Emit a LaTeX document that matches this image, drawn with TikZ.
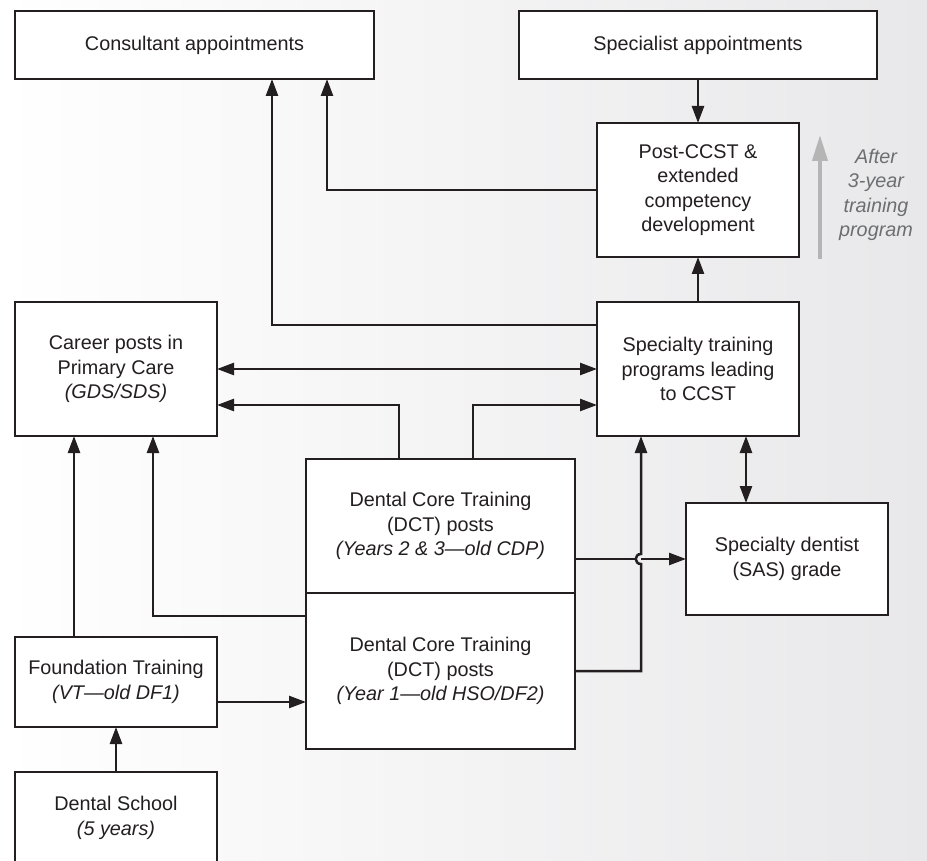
\documentclass[tikz,border=0pt]{standalone}
\usepackage{fontspec}
\setmainfont{Liberation Sans}
\usetikzlibrary{arrows.meta,positioning,calc}
\definecolor{ink}{HTML}{231F20}
\definecolor{bgright}{HTML}{E8E8EA}
\definecolor{notegray}{HTML}{6D6E71}
\definecolor{arrowgray}{HTML}{B5B5B5}

\begin{document}
\begin{tikzpicture}[x=1pt, y=-1pt, >={Triangle[length=17pt,width=12pt]},
  box/.style={draw=ink, fill=white, line width=2.5pt, text=ink, align=center,
    inner sep=0pt, outer sep=0pt, font=\fontsize{19.8}{24.3}\selectfont},
  wire/.style={draw=ink, line width=2.5pt},
  link/.style={wire, ->},
  both/.style={wire, <->}]
  % page and background
  \useasboundingbox (0,0) rectangle (927,861);
  \clip (0,0) rectangle (927,861);
  \shade[left color=white, right color=bgright] (0,0) rectangle (927,861);

  % boxes
  \node[box, minimum width=359, minimum height=68] (consult) at (194.5,45)
    {Consultant appointments};
  \node[box, minimum width=358, minimum height=68] (special) at (698,45)
    {Specialist appointments};
  \node[box, minimum width=202, minimum height=134] (postccst) at (698,190)
    {Post-CCST \&\\extended\\competency\\development};
  \node[box, minimum width=202, minimum height=134] (career) at (116,369)
    {Career posts in\\Primary Care\\\textit{(GDS/SDS)}};
  \node[box, minimum width=202, minimum height=134] (sptrain) at (698,369)
    {Specialty training\\programs leading\\to CCST};
  \node[box, minimum width=269, minimum height=134] (dcttop) at (440.5,526)
    {Dental Core Training\\(DCT) posts\\\textit{(Years 2 \& 3---old CDP)}};
  \node[box, minimum width=269, minimum height=156] (dctbot) at (440.5,671)
    {Dental Core Training\\(DCT) posts\\\textit{(Year 1---old HSO/DF2)}};
  \node[box, minimum width=202, minimum height=112] (sas) at (787,559)
    {Specialty dentist\\(SAS) grade};
  \node[box, minimum width=202, minimum height=90] (found) at (116,682)
    {Foundation Training\\\textit{(VT---old DF1)}};
  \node[box, minimum width=202, minimum height=92] (school) at (116,818)
    {Dental School\\\textit{(5 years)}};

  % note on the right
  \node[font=\fontsize{19.8}{24.3}\selectfont\itshape, text=notegray, align=center]
    (after) at (876,195) {After\\3-year\\training\\program};
  \draw[line width=4pt, arrowgray, -{Triangle[length=26pt,width=15pt]}]
    ([shift={(21,2)}]postccst.south east) -- ([shift={(21,12)}]postccst.north east);

  % upper links
  \draw[link] (special) -- (postccst);
  \draw[link] (sptrain) -- (postccst);
  \draw[link] (postccst.west) -| ([xshift=132.5]consult.south);
  \draw[link] ([yshift=44]sptrain.west) -| ([xshift=77.5]consult.south);
  \draw[both] (career) -- (sptrain);

  % links out of DCT
  \draw[link] ([xshift=-41.5]dcttop.north) |- ([yshift=-36]career.east);
  \draw[link] ([xshift=32.5]dcttop.north) |- ([yshift=-36]sptrain.west);
  \draw[link] ([yshift=55]dctbot.west) -| ([xshift=37]career.south);

  % lower left links
  \draw[link] (school) -- (found);
  \draw[link] ([xshift=-42]found.north) -- ([xshift=-42]career.south);
  \draw[link] ([yshift=-20]found.east) -- ([yshift=-20]found.east -| dctbot.west);

  % crossing near SAS
  \coordinate (upA) at ([xshift=-57]sptrain.south);
  \coordinate (outA) at ([yshift=-33]dcttop.east);
  \coordinate (hop) at (outA -| upA);
  \draw[link] (dctbot.east) -| ([yshift=-5]hop)
    .. controls +(-7,0) and +(-7,0) .. ([yshift=5]hop) -- (upA);
  \draw[wire] (outA) -- ([xshift=-5.25]hop);
  \draw[link] (hop) -- (outA -| sas.west);
  \draw[both] ([xshift=48]sptrain.south) -- ([xshift=48]sptrain.south |- sas.north);
\end{tikzpicture}
\end{document}
